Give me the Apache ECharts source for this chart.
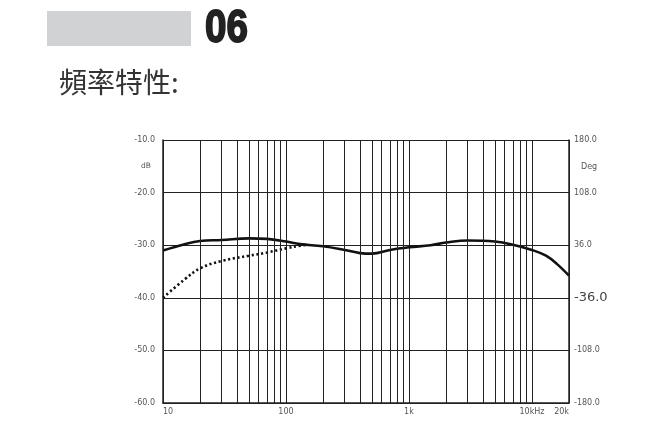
<!DOCTYPE html>
<html><head><meta charset="utf-8">
<script src="https://cdn.jsdelivr.net/npm/echarts@6/dist/echarts.min.js"></script>
<style>html,body{margin:0;padding:0;background:#fff}#c{width:654px;height:423px}</style>
</head><body><div id="c"></div>
<script>
// ---- data ----
const sectionNo = '06';
const titleText = '頻率特性:';
const dbTicks = [-60, -50, -40, -30, -20, -10];
const degTicks = [-180, -108, -36, 36, 108, 180];
const freqLabels = {10: '10', 100: '100', 1000: '1k', 10000: '10kHz', 20000: '20k'};
const gridFreqs = [20,30,40,50,60,70,80,90,200,300,400,500,600,700,800,900,2000,3000,4000,5000,6000,7000,8000,9000];
const solidFreq = [10, 15, 20, 30, 50, 70, 100, 130, 200, 300, 400, 500, 700, 1000, 1500, 2000, 3000, 5000, 7000, 10000, 13000, 16000, 20000];
const solidDb   = [-31.0, -29.8, -29.2, -29.0, -28.7, -28.8, -29.3, -29.8, -30.2, -30.9, -31.5, -31.6, -30.9, -30.4, -30.0, -29.5, -29.1, -29.3, -29.9, -30.9, -32.0, -33.6, -35.8];
const dotFreq = [10, 15, 20, 30, 50, 70, 100, 130, 150];
const dotDb   = [-40.0, -36.5, -34.4, -33.0, -32.0, -31.4, -30.6, -30.1, -29.9];

const chart = echarts.init(document.getElementById('c'), null, {renderer: 'canvas'});
const labelFont = {fontFamily: 'DejaVu Sans', fontSize: 8, color: '#555'};
const gridColor = '#222';

chart.setOption({
  animation: false,
  backgroundColor: '#fff',
  grid: {left: 163, right: 85, top: 140, bottom: 20},
  graphic: [
    {type: 'rect', shape: {x: 47, y: 11, width: 144, height: 35}, style: {fill: '#d1d2d4'}},
    {type: 'text', x: 205, y: 6, scaleX: 0.84,
      style: {text: sectionNo, font: 'bold 46px "Liberation Sans", Arial, sans-serif', fill: '#222', stroke: '#222', lineWidth: 1.8}},
    {type: 'text', x: 59, y: 68,
      style: {text: titleText, font: '28px "Noto Sans CJK TC", sans-serif', fill: '#333'}}
  ],
  xAxis: {
    type: 'log', logBase: 10, min: 10, max: 20000,
    axisLine: {show: true, onZero: false, lineStyle: {color: gridColor, width: 1.5}},
    axisTick: {show: false},
    splitLine: {show: true, lineStyle: {color: gridColor, width: 1}},
    axisLabel: Object.assign({}, labelFont, {
      margin: 5, showMinLabel: true, showMaxLabel: true,
      alignMinLabel: 'left', alignMaxLabel: 'right',
      formatter: v => freqLabels[Math.round(v)] || ''
    })
  },
  yAxis: [
    {type: 'value', min: dbTicks[0], max: dbTicks[dbTicks.length-1], interval: 10, position: 'left',
      name: 'dB', nameLocation: 'end', nameGap: -30,
      nameTextStyle: {fontFamily: 'DejaVu Sans', fontSize: 7.5, color: '#555', align: 'right', padding: [0, 12, 0, 0]},
      axisLine: {show: true, lineStyle: {color: gridColor, width: 1.5}},
      axisTick: {show: false},
      splitLine: {show: true, lineStyle: {color: gridColor, width: 1}},
      axisLabel: Object.assign({}, labelFont, {margin: 8, formatter: v => v.toFixed(1)})
    },
    {type: 'value', min: degTicks[0], max: degTicks[degTicks.length-1], interval: 72, position: 'right',
      name: 'Deg', nameLocation: 'end', nameGap: -31,
      nameTextStyle: {fontFamily: 'DejaVu Sans', fontSize: 8, color: '#555', align: 'left', padding: [0, 0, 0, 12]},
      axisLine: {show: true, lineStyle: {color: gridColor, width: 1.5}},
      axisTick: {show: false},
      splitLine: {show: false},
      axisLabel: Object.assign({}, labelFont, {margin: 5,
        formatter: v => Math.round(v) === -36 ? '{big|' + v.toFixed(1) + '}' : v.toFixed(1),
        rich: {big: {fontFamily: 'DejaVu Sans', fontSize: 13, color: '#444'}}
      })
    }
  ],
  series: [
    {type: 'line', silent: true, data: [], symbol: 'none',
      markLine: {silent: true, symbol: 'none', animation: false,
        label: {show: false},
        lineStyle: {type: 'solid', color: gridColor, width: 1},
        data: gridFreqs.map(f => ({xAxis: f}))}
    },
    {type: 'line', yAxisIndex: 0, symbol: 'none', smooth: 0.4,
      data: dotFreq.map((f, i) => [f, dotDb[i]]),
      lineStyle: {color: '#111', width: 2.6, type: [2.2, 2.6]}, z: 3},
    {type: 'line', yAxisIndex: 0, symbol: 'none', smooth: 0.4,
      data: solidFreq.map((f, i) => [f, solidDb[i]]),
      lineStyle: {color: '#111', width: 2.6}, z: 4}
  ]
});
</script></body></html>
